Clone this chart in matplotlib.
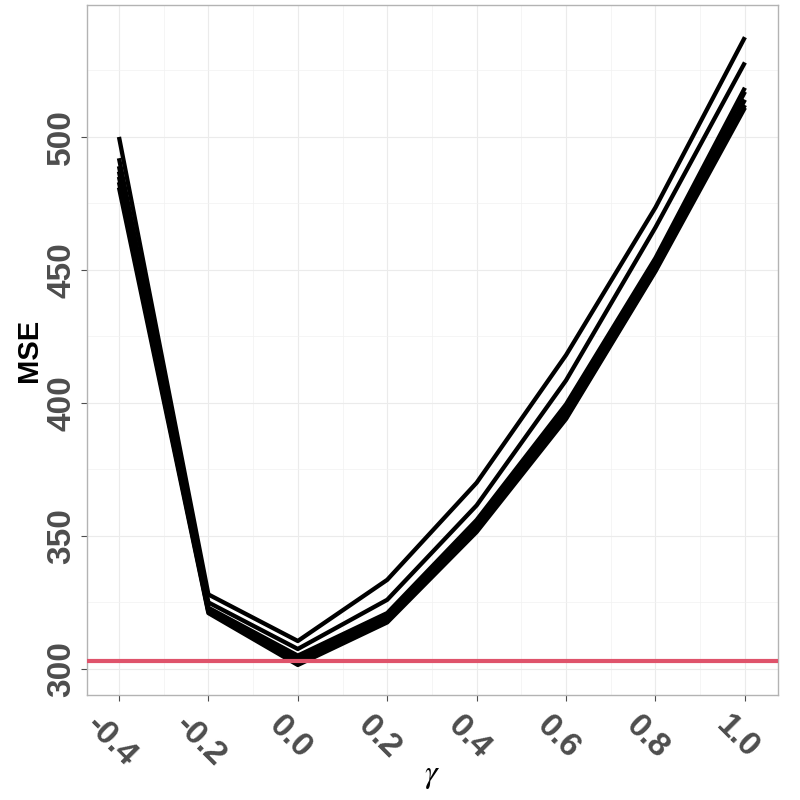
import matplotlib
matplotlib.use("Agg")
import matplotlib.pyplot as plt
import matplotlib.transforms as mtransforms
import numpy as np

gamma = [-0.4, -0.2, 0.0, 0.2, 0.4, 0.6, 0.8, 1.0]
mse_1 = [500, 328, 310.5, 333.5, 370, 418, 473.5, 537.5]
mse_2 = [492, 325, 307.5, 326, 361.5, 408.5, 466, 528]
mse_3 = [489, 323, 305, 321, 356, 399.5, 454.5, 518.5]
mse_4 = [487, 322.5, 304, 320, 354, 397.5, 452.5, 517]
mse_5 = [485, 322, 303, 319, 353, 396, 451, 514]
mse_6 = [483, 321.5, 302, 318, 352, 394.5, 450, 512]
mse_7 = [481, 321, 301.5, 317.5, 351.5, 394, 449.5, 511]
reference_mse = 303

x_ticks = [-0.4, -0.2, 0.0, 0.2, 0.4, 0.6, 0.8, 1.0]
x_tick_labels = ["-0.4", "-0.2", "0.0", "0.2", "0.4", "0.6", "0.8", "1.0"]
y_ticks = [300, 350, 400, 450, 500]
y_tick_labels = ["300", "350", "400", "450", "500"]

plt.rcParams['font.family'] = ['Liberation Sans', 'DejaVu Sans']
plt.rcParams['mathtext.fontset'] = 'stix'

fig = plt.figure(figsize=(8, 8), dpi=100)
ax = fig.add_axes([0.10875, 0.13125, 0.86375, 0.8625])

for s in [mse_1, mse_2, mse_3, mse_4, mse_5, mse_6, mse_7]:
    ax.plot(gamma, s, color='black', lw=3.1, solid_capstyle='butt', zorder=3)

ax.axhline(reference_mse, color='#DF536B', lw=3.0, zorder=4)

ax.set_xlim(-0.4715, 1.074)
ax.set_ylim(290.2, 549.6)

ax.set_xticks(x_ticks)
ax.set_xticklabels(x_tick_labels)
ax.set_yticks(y_ticks)
ax.set_yticklabels(y_tick_labels)
ax.set_xticks(np.arange(-0.3, 1.01, 0.2), minor=True)
ax.set_yticks([325, 375, 425, 475, 525], minor=True)

ax.grid(True, which='major', color='#EBEBEB', lw=0.8, zorder=0)
ax.grid(True, which='minor', color='#F2F2F2', lw=0.5, zorder=0)
ax.set_axisbelow(True)

for sp in ax.spines.values():
    sp.set_color('#B3B3B3')
    sp.set_linewidth(1.0)

ax.tick_params(axis='both', which='major', length=4, width=0.8, color='#4D4D4D',
               labelsize=24, labelcolor='#4D4D4D', pad=3)
ax.tick_params(axis='both', which='minor', length=0)

for lab in ax.get_yticklabels():
    lab.set_rotation(90)
    lab.set_va('center')
    lab.set_fontweight('bold')

offset = mtransforms.ScaledTranslation(-8 / 100, -5 / 100, fig.dpi_scale_trans)
for lab in ax.get_xticklabels():
    lab.set_rotation(-45)
    lab.set_ha('center')
    lab.set_va('top')
    lab.set_fontweight('bold')
    lab.set_transform(lab.get_transform() + offset)

ax.set_ylabel('MSE', fontsize=21, fontweight='bold', color='black', labelpad=2)
ax.set_xlabel(r'$\gamma$', fontsize=23, color='black', labelpad=-8)

fig.savefig('out.png', dpi=100)
